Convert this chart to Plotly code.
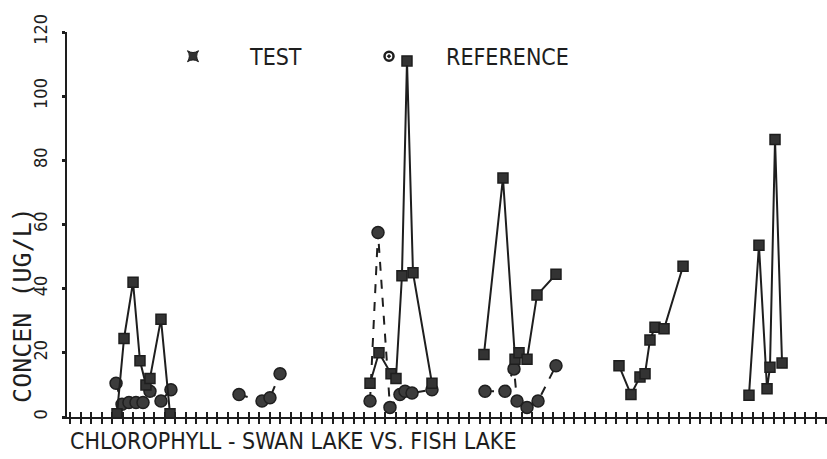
import plotly.graph_objects as go

# x = months since start of record, y = chlorophyll (ug/L); None separates sampling seasons
test_x = [4.76, 5.43, 6.29, 6.95, 7.52, 7.90, 8.95, 9.81, None,
          28.86, 29.71, 30.86, 31.33, 31.90, 32.38, 32.95, 34.76, None,
          39.71, 41.52, 42.67, 43.05, 43.81, 44.76, 46.57, None,
          52.57, 53.71, 54.57, 55.05, 55.52, 56.00, 56.86, 58.67, None,
          64.95, 65.90, 66.67, 66.95, 67.43, 68.10]
test_y = [1.0, 24.5, 42.0, 17.5, 10.0, 12.0, 30.5, 1.0, None,
          10.5, 20.0, 13.5, 12.0, 44.0, 111.0, 45.0, 10.5, None,
          19.5, 74.5, 18.0, 20.0, 18.0, 38.0, 44.5, None,
          16.0, 7.0, 12.5, 13.5, 24.0, 28.0, 27.5, 47.0, None,
          6.8, 53.5, 8.8, 15.5, 86.5, 16.8]

ref_x = [4.67, 5.24, 5.90, 6.57, 7.24, 7.90, 8.95, 9.90, None,
         16.38, 18.57, 19.33, 20.29, None,
         28.86, 29.62, 30.76, 31.71, 32.19, 32.86, 34.76, None,
         39.81, 41.71, 42.57, 42.86, 43.81, 44.86, 46.57]
ref_y = [10.5, 4.0, 4.5, 4.5, 4.5, 8.0, 5.0, 8.5, None,
         7.0, 5.0, 6.0, 13.5, None,
         5.0, 57.5, 3.0, 7.0, 8.0, 7.5, 8.5, None,
         8.0, 8.0, 15.0, 5.0, 3.0, 5.0, 16.0]

y_ticks = [0, 20, 40, 60, 80, 100, 120]
series_names = ["TEST", "REFERENCE"]
title_text = "CHLOROPHYLL - SWAN LAKE VS. FISH LAKE"
y_title = "CONCEN (UG/L)"

FONT = "DejaVu Sans Condensed, DejaVu Sans, sans-serif"
MONO = "DejaVu Sans Mono, monospace"
INK = "#1e1e1e"

fig = go.Figure()
fig.add_trace(go.Scatter(x=ref_x, y=ref_y, mode="lines+markers", showlegend=False,
                         line=dict(color=INK, width=2, dash="dash"),
                         marker=dict(symbol="circle", size=12, color="#3c3c3c",
                                     line=dict(color=INK, width=1.5))))
fig.add_trace(go.Scatter(x=test_x, y=test_y, mode="lines+markers", showlegend=False,
                         line=dict(color=INK, width=2),
                         marker=dict(symbol="square", size=10, color="#333333",
                                     line=dict(color=INK, width=1.5))))
# legend-only entries
fig.add_trace(go.Scatter(x=[None], y=[None], mode="markers", name=series_names[0],
                         legend="legend",
                         marker=dict(symbol="star-square", size=10, color="#333333",
                                     line=dict(color=INK, width=1))))
fig.add_trace(go.Scatter(x=[None], y=[None], mode="markers", name=series_names[1],
                         legend="legend2",
                         marker=dict(symbol="circle-dot", size=9, color="white",
                                     line=dict(color=INK, width=2.5))))
# trace on overlay axis for cross-shaped x ticks
fig.add_trace(go.Scatter(x=[None], y=[None], xaxis="x2", showlegend=False, hoverinfo="skip"))

XR = [0, 72.38]
leg_common = dict(orientation="h", xanchor="left", y=0.937, yanchor="middle",
                  font=dict(family=FONT, size=23, color=INK), itemwidth=104,
                  bgcolor="rgba(0,0,0,0)", itemclick=False, itemdoubleclick=False)
fig.update_layout(
    width=827, height=459,
    margin=dict(l=67, r=0, t=32, b=42),
    paper_bgcolor="white", plot_bgcolor="white",
    font=dict(family=FONT, color=INK, size=16),
    showlegend=True,
    legend=dict(x=0.0908, **leg_common),
    legend2=dict(x=0.3487, **leg_common),
    xaxis=dict(range=XR, showgrid=False, zeroline=False, showticklabels=False,
               showline=True, linecolor=INK, linewidth=2,
               ticks="outside", ticklen=5, tickwidth=2, tickcolor=INK,
               tick0=0.3, dtick=1),
    xaxis2=dict(range=XR, overlaying="x", anchor="y", side="bottom",
                showgrid=False, zeroline=False, showticklabels=False, showline=False,
                ticks="inside", ticklen=5, tickwidth=2, tickcolor=INK,
                tick0=0.3, dtick=1),
    yaxis=dict(range=[0, 120], showgrid=False, zeroline=False,
               showline=True, linecolor=INK, linewidth=2,
               tickvals=y_ticks, ticktext=[str(v) for v in y_ticks],
               ticks="outside", ticklen=3, tickwidth=3, tickcolor=INK,
               tickangle=-90, tickfont=dict(family=FONT, size=18, color=INK),
               ticklabelstandoff=8),
    annotations=[
        dict(text=title_text, xref="paper", yref="paper", x=0.0013, y=-0.062,
             xanchor="left", yanchor="middle", showarrow=False,
             font=dict(family=FONT, size=23, color=INK)),
        dict(text=y_title, xref="paper", yref="paper", x=-0.058, y=0.291,
             xanchor="center", yanchor="middle", textangle=-90, showarrow=False,
             font=dict(family=MONO, size=25, color=INK)),
    ],
)

fig.write_html("out.html")
